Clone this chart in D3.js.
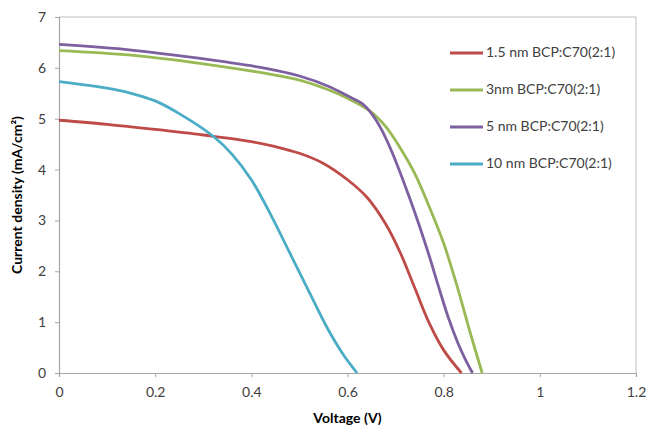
<!DOCTYPE html>
<html>
<head>
<meta charset="utf-8">
<script src="https://cdn.jsdelivr.net/npm/d3@7"></script>
<style>
  html, body { margin: 0; padding: 0; background: #fff; }
  svg { display: block; }
  text { font-family: Lato, "Open Sans", sans-serif; }
</style>
</head>
<body>
<svg id="chart" width="647" height="426"></svg>
<script>
// J–V curves for different BCP:C70(2:1) layer thicknesses
const seriesNames = [
  "1.5 nm BCP:C70(2:1)",
  "3nm BCP:C70(2:1)",
  "5 nm BCP:C70(2:1)",
  "10 nm BCP:C70(2:1)"
];
const seriesColors = ["#BE4B48", "#98B954", "#7D60A0", "#4BACC6"];

const voltage15 = [0, 0.1, 0.2, 0.3, 0.4, 0.45, 0.5, 0.55, 0.6, 0.64, 0.68, 0.71, 0.74, 0.77, 0.8, 0.837];
const current15 = [4.97, 4.89, 4.79, 4.68, 4.55, 4.45, 4.32, 4.12, 3.80, 3.46, 2.92, 2.36, 1.67, 0.98, 0.45, 0];

const voltage3 = [0, 0.15, 0.3, 0.43, 0.5, 0.56, 0.6, 0.647, 0.68, 0.71, 0.74, 0.77, 0.8, 0.83, 0.855, 0.88];
const current3 = [6.34, 6.25, 6.08, 5.89, 5.76, 5.57, 5.40, 5.15, 4.84, 4.42, 3.92, 3.27, 2.55, 1.64, 0.80, 0];

const voltage5 = [0, 0.15, 0.29, 0.43, 0.5, 0.56, 0.6, 0.63, 0.65, 0.67, 0.69, 0.71, 0.73, 0.75, 0.77, 0.79, 0.81, 0.83, 0.845, 0.86];
const current5 = [6.46, 6.35, 6.19, 5.99, 5.84, 5.64, 5.45, 5.30, 5.10, 4.80, 4.40, 3.93, 3.42, 2.88, 2.30, 1.68, 1.08, 0.58, 0.27, 0];

const voltage10 = [0, 0.1, 0.15, 0.2, 0.25, 0.32, 0.36, 0.4, 0.44, 0.48, 0.52, 0.56, 0.59, 0.62];
const current10 = [5.73, 5.60, 5.50, 5.35, 5.10, 4.66, 4.30, 3.80, 3.12, 2.36, 1.60, 0.85, 0.38, 0];

const xTicks = [0, 0.2, 0.4, 0.6, 0.8, 1, 1.2];
const yTicks = [0, 1, 2, 3, 4, 5, 6, 7];

const voltages = [voltage15, voltage3, voltage5, voltage10];
const currents = [current15, current3, current5, current10];

const series = seriesNames.map((name, i) => ({
  name,
  color: seriesColors[i],
  points: voltages[i].map((v, k) => ({ v, j: currents[i][k] }))
}));

const margin = { left: 59, right: 11, top: 17, bottom: 53 };
const W = 647, H = 426;

const svg = d3.select("#chart");

const x = d3.scaleLinear().domain([0, 1.2]).range([margin.left, W - margin.right]);
const y = d3.scaleLinear().domain([0, 7]).range([H - margin.bottom, margin.top]);

const axisGray = "#A6A6A6";
const labelColor = "#404040";

// plot-area frame (top and right edges)
svg.append("path")
  .attr("d", `M${x(0)},${y(7)}H${x(1.2)}V${y(0)}`)
  .attr("fill", "none")
  .attr("stroke", "#BFBFBF")
  .attr("stroke-width", 1);

// x axis
const gx = svg.append("g")
  .attr("transform", `translate(0,${y(0)})`)
  .call(d3.axisBottom(x).tickValues(xTicks).tickSize(4).tickPadding(10)
    .tickFormat(d => String(+d.toFixed(1))));
gx.select(".domain").attr("stroke", axisGray).attr("stroke-width", 1.2);
gx.selectAll(".tick line").attr("stroke", axisGray);
gx.selectAll(".tick text").attr("fill", labelColor).style("font-size", "14px");

// y axis
const gy = svg.append("g")
  .attr("transform", `translate(${x(0)},0)`)
  .call(d3.axisLeft(y).tickValues(yTicks).tickSize(4).tickPadding(9)
    .tickFormat(d3.format("d")));
gy.select(".domain").attr("stroke", axisGray).attr("stroke-width", 1.2);
gy.selectAll(".tick line").attr("stroke", axisGray);
gy.selectAll(".tick text").attr("fill", labelColor).style("font-size", "14px");

// curves
const line = d3.line()
  .x(d => x(d.v))
  .y(d => y(d.j))
  .curve(d3.curveCatmullRom.alpha(0.5));

svg.append("g").selectAll("path")
  .data(series)
  .join("path")
  .attr("d", d => line(d.points))
  .attr("fill", "none")
  .attr("stroke", d => d.color)
  .attr("stroke-width", 2.8)
  .attr("stroke-linejoin", "round");

// axis titles
svg.append("text")
  .attr("x", (x(0) + x(1.2)) / 2)
  .attr("y", 419)
  .attr("text-anchor", "middle")
  .attr("dominant-baseline", "middle")
  .attr("fill", "#000")
  .style("font-size", "14px")
  .style("font-weight", "bold")
  .text("Voltage (V)");

svg.append("text")
  .attr("transform", `translate(18,${(y(0) + y(7)) / 2}) rotate(-90)`)
  .attr("text-anchor", "middle")
  .attr("dominant-baseline", "middle")
  .attr("fill", "#000")
  .style("font-size", "14px")
  .style("font-weight", "bold")
  .text("Current density (mA/cm²)");

// legend
const legend = svg.append("g").attr("transform", "translate(450,53)");
const rows = legend.selectAll("g")
  .data(series)
  .join("g")
  .attr("transform", (d, i) => `translate(0,${i * 37})`);
rows.append("line")
  .attr("x1", 0).attr("x2", 33)
  .attr("stroke", d => d.color)
  .attr("stroke-width", 2.8);
rows.append("text")
  .attr("x", 36)
  .attr("dominant-baseline", "middle")
  .attr("fill", labelColor)
  .style("font-size", "14px")
  .text(d => d.name);
</script>
</body>
</html>
